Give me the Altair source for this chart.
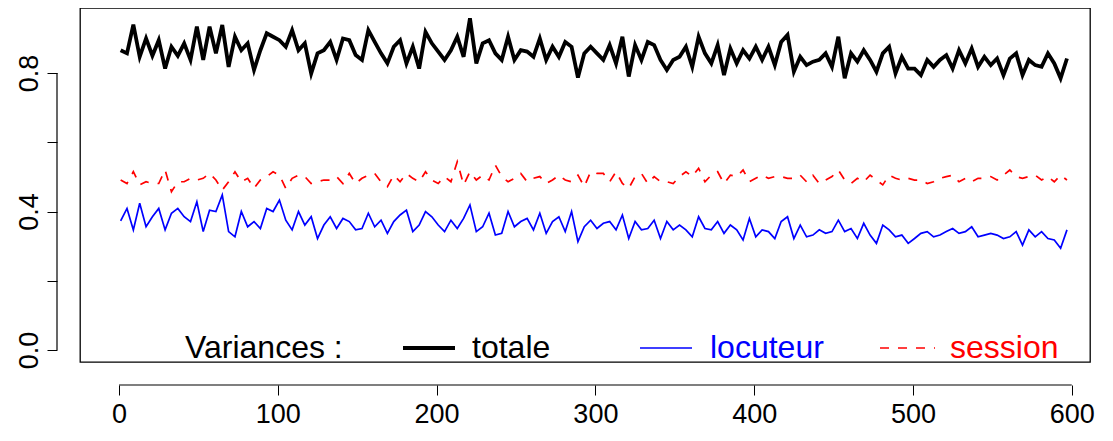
import altair as alt
import pandas as pd

# x positions (every 4th observation)
x_index = list(range(1, 598, 4))

totale = [
    0.866, 0.857, 0.940, 0.847, 0.900, 0.850, 0.895, 0.813, 0.876, 0.850, 0.886, 0.838, 0.934,
    0.838, 0.934, 0.857, 0.939, 0.818, 0.905, 0.866, 0.886, 0.809, 0.866, 0.915, 0.905,
    0.895, 0.876, 0.924, 0.866, 0.886, 0.799, 0.857, 0.866, 0.890, 0.838, 0.900, 0.895, 0.852,
    0.838, 0.924, 0.890, 0.857, 0.828, 0.876, 0.895, 0.828, 0.876, 0.813, 0.919, 0.886,
    0.862, 0.838, 0.866, 0.905, 0.847, 0.958, 0.828, 0.886, 0.895, 0.857, 0.838, 0.905, 0.838,
    0.866, 0.862, 0.847, 0.900, 0.838, 0.876, 0.847, 0.890, 0.876, 0.787, 0.857, 0.876,
    0.857, 0.838, 0.881, 0.828, 0.905, 0.790, 0.881, 0.838, 0.890, 0.881, 0.838, 0.809, 0.838,
    0.847, 0.876, 0.818, 0.905, 0.857, 0.828, 0.881, 0.794, 0.871, 0.828, 0.866, 0.842,
    0.876, 0.838, 0.876, 0.823, 0.890, 0.910, 0.804, 0.847, 0.823, 0.833, 0.838, 0.857, 0.818,
    0.905, 0.785, 0.857, 0.833, 0.866, 0.838, 0.804, 0.857, 0.876, 0.799, 0.847, 0.813,
    0.813, 0.794, 0.838, 0.818, 0.838, 0.852, 0.813, 0.866, 0.828, 0.871, 0.818, 0.847, 0.823,
    0.842, 0.794, 0.842, 0.857, 0.794, 0.838, 0.823, 0.818, 0.857, 0.828, 0.785, 0.842,
]

locuteur = [
    0.373, 0.409, 0.347, 0.424, 0.356, 0.385, 0.409, 0.347, 0.395, 0.409, 0.385, 0.371, 0.428,
    0.342, 0.404, 0.400, 0.448, 0.342, 0.327, 0.400, 0.356, 0.371, 0.351, 0.409, 0.400,
    0.433, 0.375, 0.347, 0.400, 0.361, 0.385, 0.322, 0.361, 0.385, 0.351, 0.380, 0.371, 0.347,
    0.351, 0.395, 0.356, 0.375, 0.337, 0.371, 0.390, 0.404, 0.342, 0.361, 0.400, 0.385,
    0.361, 0.342, 0.375, 0.351, 0.380, 0.419, 0.342, 0.356, 0.395, 0.332, 0.337, 0.400, 0.356,
    0.371, 0.380, 0.347, 0.395, 0.337, 0.371, 0.385, 0.342, 0.400, 0.313, 0.356, 0.375,
    0.351, 0.366, 0.371, 0.347, 0.390, 0.322, 0.371, 0.347, 0.351, 0.375, 0.322, 0.371, 0.347,
    0.361, 0.347, 0.327, 0.385, 0.351, 0.347, 0.371, 0.337, 0.361, 0.347, 0.318, 0.380,
    0.327, 0.347, 0.342, 0.322, 0.371, 0.385, 0.322, 0.361, 0.327, 0.332, 0.347, 0.337, 0.342,
    0.375, 0.342, 0.351, 0.322, 0.366, 0.332, 0.308, 0.361, 0.347, 0.327, 0.332, 0.308,
    0.322, 0.337, 0.342, 0.327, 0.332, 0.342, 0.351, 0.337, 0.342, 0.356, 0.327, 0.332, 0.337,
    0.332, 0.322, 0.327, 0.342, 0.303, 0.347, 0.327, 0.342, 0.322, 0.318, 0.294, 0.347,
]

session = [
    0.491, 0.481, 0.515, 0.477, 0.486, 0.481, 0.481, 0.520, 0.457, 0.486, 0.486, 0.496, 0.491,
    0.496, 0.510, 0.491, 0.462, 0.486, 0.515, 0.486, 0.496, 0.467, 0.491, 0.501, 0.515,
    0.505, 0.467, 0.496, 0.505, 0.501, 0.481, 0.486, 0.491, 0.491, 0.501, 0.481, 0.510, 0.481,
    0.496, 0.505, 0.510, 0.486, 0.472, 0.505, 0.486, 0.510, 0.496, 0.486, 0.515, 0.491,
    0.481, 0.501, 0.486, 0.544, 0.477, 0.515, 0.491, 0.505, 0.491, 0.534, 0.501, 0.486, 0.496,
    0.510, 0.486, 0.496, 0.501, 0.481, 0.491, 0.505, 0.491, 0.486, 0.505, 0.472, 0.515,
    0.510, 0.510, 0.486, 0.515, 0.481, 0.467, 0.501, 0.510, 0.481, 0.501, 0.486, 0.486, 0.481,
    0.501, 0.515, 0.501, 0.525, 0.486, 0.505, 0.515, 0.481, 0.505, 0.501, 0.520, 0.486,
    0.496, 0.505, 0.496, 0.501, 0.501, 0.496, 0.496, 0.505, 0.486, 0.505, 0.481, 0.491, 0.501,
    0.520, 0.491, 0.481, 0.496, 0.486, 0.505, 0.491, 0.477, 0.505, 0.496, 0.491, 0.496,
    0.491, 0.491, 0.481, 0.486, 0.496, 0.501, 0.505, 0.486, 0.496, 0.486, 0.496, 0.496, 0.501,
    0.491, 0.505, 0.520, 0.501, 0.496, 0.501, 0.505, 0.491, 0.501, 0.486, 0.505, 0.491,
]

x_ticks = [0, 100, 200, 300, 400, 500, 600]
y_ticks = [0.0, 0.2, 0.4, 0.6, 0.8]

legend_title = "Variances :"
legend_labels = ["totale", "locuteur", "session"]
legend_colors = ["black", "blue", "red"]

FONT = "Liberation Sans"
FS = 27
LFS = 32
W, H = 1010, 354
XDOM = [-24.6, 611.5]
YDOM = [-0.0347, 0.988]
DASH = [9, 9]

n = min(len(x_index), len(totale), len(locuteur), len(session))
df = pd.DataFrame({
    "x": x_index[:n],
    "totale": totale[:n],
    "locuteur": locuteur[:n],
    "session": session[:n],
})

xs = alt.Scale(domain=XDOM, nice=False, zero=False)
ys = alt.Scale(domain=YDOM, nice=False, zero=False)

base = alt.Chart(df)

x_axis = alt.Axis(values=x_ticks, domain=False, offset=23, tickSize=10, tickColor="black",
                  labelFontSize=FS, labelFont=FONT, labelColor="black", labelPadding=6,
                  grid=False, title=None, labelFlush=False)
y_axis = alt.Axis(values=y_ticks, domain=False, offset=23, tickSize=10, tickColor="black",
                  labelFontSize=FS, labelFont=FONT, labelColor="black", labelPadding=4,
                  labelAngle=270, labelAlign="center", labelBaseline="bottom",
                  labelExpr="(abs(datum.value-0.2)<0.01 || abs(datum.value-0.6)<0.01) ? '' : format(datum.value, '.1f')",
                  grid=False, title=None, labelFlush=False)

black = base.mark_line(color="black", strokeWidth=3.8, clip=True).encode(
    x=alt.X("x:Q", scale=xs, axis=x_axis),
    y=alt.Y("totale:Q", scale=ys, axis=y_axis),
)
blue = base.mark_line(color="blue", strokeWidth=1.7, clip=True).encode(
    x=alt.X("x:Q", scale=xs), y=alt.Y("locuteur:Q", scale=ys))
red = base.mark_line(color="red", strokeWidth=1.7, strokeDash=DASH, clip=True).encode(
    x=alt.X("x:Q", scale=xs), y=alt.Y("session:Q", scale=ys))

axis_df = pd.DataFrame({"x0": [x_ticks[0]], "x1": [x_ticks[-1]],
                        "y0": [y_ticks[0]], "y1": [y_ticks[-1]]})
xline = alt.Chart(axis_df).mark_rule(color="black", strokeWidth=1.2).encode(
    x=alt.X("x0:Q", scale=xs), x2="x1:Q", y=alt.value(H + 23))
yline = alt.Chart(axis_df).mark_rule(color="black", strokeWidth=1.2).encode(
    y=alt.Y("y0:Q", scale=ys), y2="y1:Q", x=alt.value(-23))

LY = 340
leg_title = alt.Chart(axis_df).mark_text(text=legend_title, font=FONT, fontSize=LFS, align="left",
                                         baseline="middle", color="black").encode(
    x=alt.value(105), y=alt.value(LY))
leg_items = []
line_x = [(323, 375), (560, 612), (800, 855)]
text_x = [392, 630, 870]
widths = [4, 1.7, 1.7]
dashes = [[1, 0], [1, 0], DASH]
for lab, col, (a, b), tx, w, d in zip(legend_labels, legend_colors, line_x, text_x, widths, dashes):
    leg_items.append(alt.Chart(axis_df).mark_rule(color=col, strokeWidth=w, strokeDash=d).encode(
        x=alt.value(a), x2=alt.value(b), y=alt.value(LY)))
    leg_items.append(alt.Chart(axis_df).mark_text(text=lab, font=FONT, fontSize=LFS, align="left",
                                                  baseline="middle", color=col).encode(
        x=alt.value(tx), y=alt.value(LY)))

chart = alt.layer(black, blue, red, xline, yline, leg_title, *leg_items).properties(
    width=W, height=H,
    background="white",
    autosize=alt.AutoSizeParams(type="none"),
    padding={"left": 72, "top": 0, "right": 15, "bottom": 71},
).configure_view(stroke="black", strokeWidth=1.3)

chart.save("out.html", embed_options={"renderer": "svg", "actions": False})
